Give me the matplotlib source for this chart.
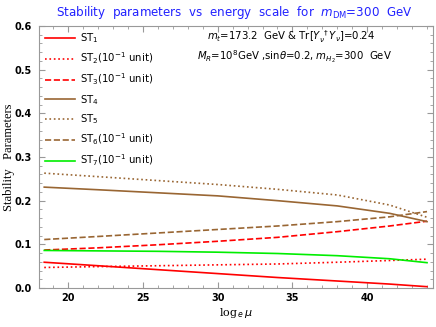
import numpy as np
from matplotlib import pyplot as plt
from matplotlib.ticker import MultipleLocator

# energy scale log_e(mu)
log_mu = [18.4, 22, 26, 30, 34, 38, 41.5, 44]

st1 = [0.059, 0.051, 0.042, 0.033, 0.024, 0.016, 0.009, 0.003]
st2 = [0.047, 0.049, 0.051, 0.053, 0.055, 0.059, 0.063, 0.066]
st3 = [0.087, 0.092, 0.099, 0.107, 0.116, 0.129, 0.142, 0.153]
st4 = [0.231, 0.225, 0.218, 0.211, 0.200, 0.188, 0.171, 0.152]
st5 = [0.263, 0.255, 0.246, 0.237, 0.226, 0.213, 0.190, 0.162]
st6 = [0.111, 0.118, 0.126, 0.134, 0.142, 0.152, 0.163, 0.175]
st7 = [0.086, 0.085, 0.084, 0.082, 0.079, 0.074, 0.067, 0.058]

labels = [r'ST$_1$', r'ST$_2$(10$^{-1}$ unit)', r'ST$_3$(10$^{-1}$ unit)', r'ST$_4$',
          r'ST$_5$', r'ST$_6$(10$^{-1}$ unit)', r'ST$_7$(10$^{-1}$ unit)']

red = '#ff0000'
brown = '#996633'
green = '#00ee00'

fig = plt.figure(figsize=(4.36, 3.27), dpi=100)
ax = fig.add_axes([39 / 436, 1 - 288 / 327, 394 / 436, 262 / 327])

series = [st1, st2, st3, st4, st5, st6, st7]
styles = [(red, '-'), (red, ':'), (red, '--'), (brown, '-'), (brown, ':'), (brown, '--'), (green, '-')]
for vals, (c, ls), lab in zip(series, styles, labels):
    ax.plot(log_mu, vals, color=c, linestyle=ls, lw=1.2, label=lab)

ax.set_xlim(18.05, 44.4)
ax.set_ylim(0, 0.6)
ax.xaxis.set_major_locator(MultipleLocator(5))
ax.xaxis.set_minor_locator(MultipleLocator(1))
ax.yaxis.set_major_locator(MultipleLocator(0.1))
ax.yaxis.set_minor_locator(MultipleLocator(0.02))
ax.tick_params(which='both', direction='in', top=True, right=True, colors='#999999',
               labelcolor='black', labelsize=7)
ax.tick_params(which='major', length=4)
ax.tick_params(which='minor', length=2)
ax.tick_params(axis='y', pad=5)
for lbl in ax.get_xticklabels() + ax.get_yticklabels():
    lbl.set_fontweight('bold')
for s in ax.spines.values():
    s.set_color('#999999')

ax.set_xlabel(r'log$_{\,e}\,\mu$', family='DejaVu Serif', fontsize=8, labelpad=2)
ax.set_ylabel('Stability   Parameters', family='Liberation Serif', fontsize=9)
ax.yaxis.set_label_coords(-0.061, 0.5)

fig.text(0.538, 0.963, r'Stability  parameters  vs  energy  scale  for  $m_{\rm DM}$=300  GeV',
         ha='center', va='center', color='#2222ff', fontsize=8.6)

ax.text(0.426, 0.958, r'$m_t$=173.2  GeV & Tr[$Y_\nu^{\ \dagger}Y_\nu$]=0.24',
        transform=ax.transAxes, fontsize=7.3, va='center')
ax.text(0.40, 0.885, r'$M_R$=10$^8$GeV ,sin$\theta$=0.2, $m_{H_2}$=300  GeV',
        transform=ax.transAxes, fontsize=7.3, va='center')

ax.legend(loc='upper left', frameon=False, fontsize=7.3, handlelength=3.0,
          labelspacing=0.55, borderaxespad=0.15, handletextpad=0.5)

fig.savefig('out.png', dpi=100)
